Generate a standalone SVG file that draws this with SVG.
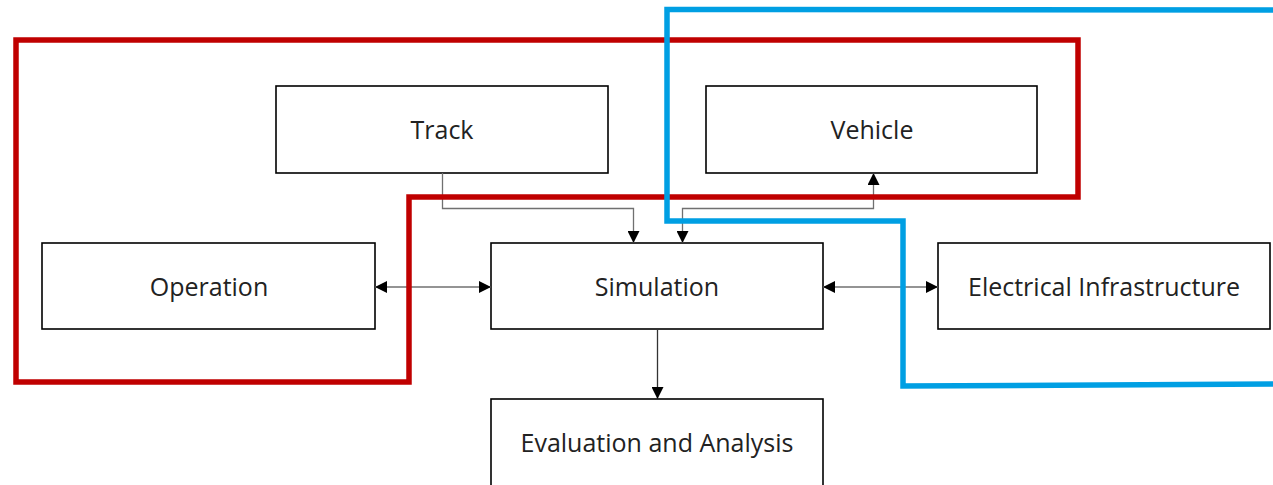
<svg xmlns="http://www.w3.org/2000/svg" width="1273" height="485" viewBox="0 0 1273 485">
<defs>
<style>
.box{fill:#fff;stroke:#000;stroke-width:1.6}
.lbl{font-family:"Open Sans","Noto Sans","DejaVu Sans",sans-serif;font-size:25px;fill:#222;text-anchor:middle}
.con{fill:none;stroke:#707070;stroke-width:1.3}
.dark{stroke:#333}
</style>
<marker id="ah" viewBox="0 0 12 12" refX="12" refY="6" markerWidth="12" markerHeight="12" markerUnits="userSpaceOnUse" orient="auto-start-reverse">
<path d="M0,0 L12,6 L0,12 Z" fill="#000"/>
</marker>
</defs>
<rect width="1273" height="485" fill="#fff"/>
<g id="track"><rect class="box" x="276" y="86" width="332" height="87"/><text class="lbl" x="442" y="139">Track</text></g>
<g id="vehicle"><rect class="box" x="706" y="86" width="331" height="87"/><text class="lbl" x="872" y="139">Vehicle</text></g>
<g id="operation"><rect class="box" x="42" y="243" width="333" height="86"/><text class="lbl" x="209" y="296">Operation</text></g>
<g id="simulation"><rect class="box" x="491" y="243" width="332" height="86"/><text class="lbl" x="657" y="296">Simulation</text></g>
<g id="electrical"><rect class="box" x="938" y="243" width="332" height="86"/><text class="lbl" x="1104" y="296">Electrical Infrastructure</text></g>
<g id="evaluation"><rect class="box" x="491" y="399" width="332" height="100"/><text class="lbl" x="657" y="452">Evaluation and Analysis</text></g>
<g id="connectors">
<path class="con" d="M442.5,173 V208.5 H633.5 V243" marker-end="url(#ah)"/>
<path class="con" d="M682.5,243 V208.5 H873.5 V173" marker-start="url(#ah)" marker-end="url(#ah)"/>
<path class="con" d="M375,287 H491" marker-start="url(#ah)" marker-end="url(#ah)"/>
<path class="con" d="M823,287 H938" marker-start="url(#ah)" marker-end="url(#ah)"/>
<path class="con dark" d="M657.5,329 V399" marker-end="url(#ah)"/>
</g>
<g id="groups">
<path d="M16,40 H1078 V197 H409 V382 H16 Z" fill="none" stroke="#C00000" stroke-width="5.5"/>
<path d="M1280,10 L667,9.5 V221 H903 V386 L1280,384" fill="none" stroke="#009FE3" stroke-width="5.5"/>
</g>
</svg>
